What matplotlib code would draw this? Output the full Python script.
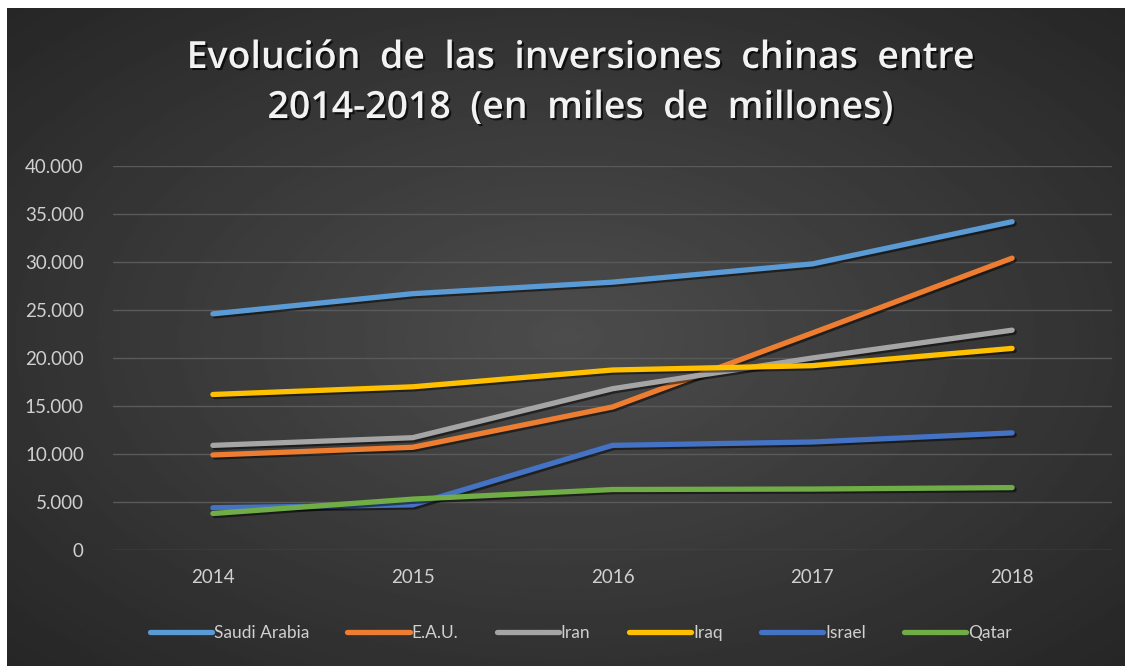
import numpy as np
import matplotlib
matplotlib.use("Agg")
import matplotlib.pyplot as plt
import matplotlib.patheffects as pe

# data (values in millions)
years = ["2014", "2015", "2016", "2017", "2018"]
saudi = [24600, 26700, 27900, 29800, 34200]
eau = [9900, 10700, 14900, 22600, 30400]
iran = [10900, 11700, 16800, 20000, 22900]
iraq = [16200, 17000, 18750, 19200, 21000]
israel = [4400, 4700, 10900, 11250, 12200]
qatar = [3800, 5300, 6300, 6350, 6500]

series = [("Saudi Arabia", saudi, "#5b9bd5"),
          ("E.A.U.", eau, "#ed7d31"),
          ("Iran", iran, "#a5a5a5"),
          ("Iraq", iraq, "#ffc000"),
          ("Israel", israel, "#4472c4"),
          ("Qatar", qatar, "#70ad47")]

W, H = 1132, 666
fig = plt.figure(figsize=(W / 100, H / 100), dpi=100)
fig.patch.set_facecolor("white")

# dark radial gradient background
bg = fig.add_axes([7 / W, 0, (1125 - 7) / W, (H - 8) / H])
yy, xx = np.mgrid[-1:1:300j, -1:1:500j]
r = np.sqrt(xx ** 2 + yy ** 2) / np.sqrt(2)
grad = 0.30 - 0.15 * r
bg.imshow(grad, cmap="gray", vmin=0, vmax=1, aspect="auto", extent=[0, 1, 0, 1])
bg.set_axis_off()

ax = fig.add_axes([113 / W, 1 - 550 / H, (1112 - 113) / W, (550 - 166) / H])
ax.set_facecolor("none")
x = np.arange(len(years))
shadow = [pe.SimpleLineShadow(offset=(1.5, -1.5), shadow_color="black", alpha=0.5), pe.Normal()]
for name, vals, col in series:
    ax.plot(x, vals, color=col, lw=3.8, solid_capstyle="round", solid_joinstyle="round",
            label=name, path_effects=shadow)

ax.set_xlim(-0.5, 4.5)
ax.set_ylim(0, 40000)
ax.set_yticks(range(0, 40001, 5000))
ax.set_yticklabels(["0" if v == 0 else f"{v // 1000}.000" for v in range(0, 40001, 5000)])
ax.set_xticks(x)
ax.set_xticklabels(years)
ax.grid(axis="y", color="#5a5a5a", lw=1)
ax.set_axisbelow(True)
for s in ax.spines.values():
    s.set_visible(False)
ax.tick_params(length=0, colors="#d0d0d0", labelsize=13.5, labelfontfamily="Lato")
ax.tick_params(axis="y", pad=21)
ax.tick_params(axis="x", pad=14)

txt_shadow = [pe.SimplePatchShadow(offset=(1.5, -1.5), shadow_rgbFace="black", alpha=0.7), pe.Normal()]
fig.text(0.513, 1 - 58 / H, "Evolución  de  las  inversiones  chinas  entre", ha="center", va="center",
         color="#f2f2f2", fontsize=27, fontweight="semibold", family="Open Sans", path_effects=txt_shadow)
fig.text(0.513, 1 - 108 / H, "2014-2018  (en  miles  de  millones)", ha="center", va="center",
         color="#f2f2f2", fontsize=27, fontweight="semibold", family="Open Sans", path_effects=txt_shadow)

leg = fig.legend(loc="center", bbox_to_anchor=(0.513, 1 - 633 / H), ncol=6, frameon=False,
                 handlelength=3.6, handletextpad=0.1, columnspacing=2.2,
                 prop={"family": "Lato", "size": 12.5})
for t in leg.get_texts():
    t.set_color("#d0d0d0")
for h in leg.get_lines():
    h.set_path_effects([])

fig.savefig("out.png", dpi=100, facecolor=fig.get_facecolor())
